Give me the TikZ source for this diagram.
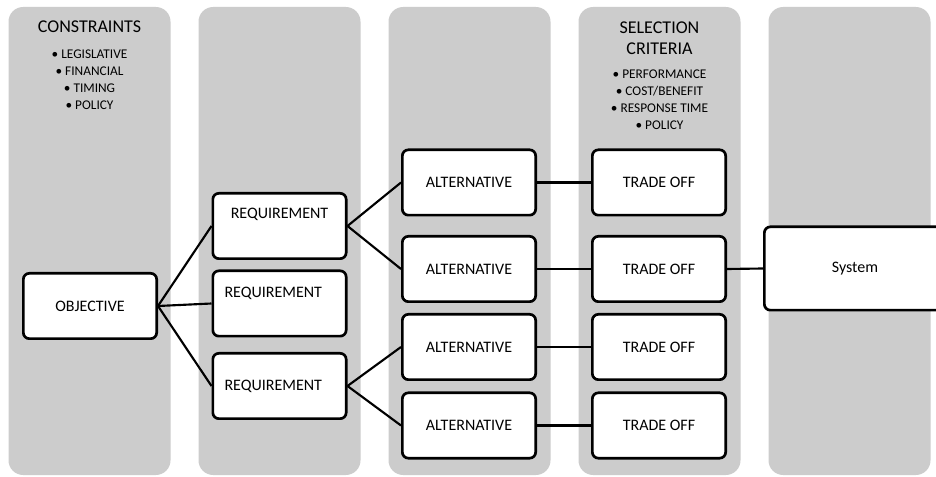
\documentclass[tikz,border=0pt]{standalone}
\usepackage{fontspec}
\setmainfont{Carlito}
\usetikzlibrary{positioning}

\begin{document}
\begin{tikzpicture}[x=0.75pt,y=-0.75pt]
\tikzstyle{lane}=[rectangle, rounded corners=11pt, fill=black!20, minimum width=121.5pt, minimum height=351pt, inner sep=0pt]
\tikzstyle{stage}=[rectangle, rounded corners=4.5pt, draw=black, line width=2pt, fill=white, minimum width=100pt, minimum height=49pt, inner sep=3pt, font=\fontsize{12}{14}\selectfont]
\tikzstyle{offcentre}=[align=left, inner xsep=8.75pt, text width=82.5pt]
\tikzstyle{connect}=[line width=1.6pt]
\tikzstyle{head}=[align=center, font=\fontsize{13.5}{16}\selectfont]
\tikzstyle{items}=[align=center, font=\fontsize{10}{12.75}\selectfont]
  \clip (0,0) rectangle (936,477);
  \fill[white] (0,0) rectangle (936,477);
  % grey lanes
  \node[lane] (lane1) at (89.5,241) {};
  \node[lane] (lane2) at (279.5,241) {};
  \node[lane] (lane3) at (469.5,241) {};
  \node[lane] (lane4) at (659.5,241) {};
  \node[lane] (lane5) at (849.5,241) {};
  % lane headings
  \node[head] (constraints) at (89.5,27) {CONSTRAINTS};
  \node[items] (limits) at (89.5,79.5) {\textbullet\ LEGISLATIVE\\ \textbullet\ FINANCIAL\\ \textbullet\ TIMING\\ \textbullet\ POLICY};
  \node[head] (criteria) at (659.5,38) {SELECTION\\ CRITERIA};
  \node[items] (measures) at (659.5,99.5) {\textbullet\ PERFORMANCE\\ \textbullet\ COST/BENEFIT\\ \textbullet\ RESPONSE TIME\\ \textbullet\ POLICY};
  % boxes
  \node[stage] (objective) at (90,306) {OBJECTIVE};
  \node[stage, text height=8pt, text depth=19.8pt] (req1) at (279.5,226) {REQUIREMENT};
  \node[stage, offcentre, text height=8pt, text depth=17.5pt] (req2) at (279.5,303.5) {REQUIREMENT};
  \node[stage, offcentre] (req3) at (279.5,386) {REQUIREMENT};
  \node[stage] (alt1) at (469,182.5) {ALTERNATIVE};
  \node[stage] (alt2) at (469,269) {ALTERNATIVE};
  \node[stage] (alt3) at (469,347) {ALTERNATIVE};
  \node[stage] (alt4) at (469,425.5) {ALTERNATIVE};
  \node[stage] (trade1) [right=40.5pt of alt1] {TRADE OFF};
  \node[stage] (trade2) [right=40.5pt of alt2] {TRADE OFF};
  \node[stage] (trade3) [right=40.5pt of alt3] {TRADE OFF};
  \node[stage] (trade4) [right=40.5pt of alt4] {TRADE OFF};
  \node[stage, minimum width=136pt, minimum height=62.5pt] (system) at (855,268.5) {System};
  % links
  \path (objective.east) edge [connect] (req1.west)
        (objective.east) edge [connect] (req2.west)
        (objective.east) edge [connect] (req3.west)
        (req1.east) edge [connect] (alt1.west)
        (req1.east) edge [connect] (alt2.west)
        (req3.east) edge [connect] (alt3.west)
        (req3.east) edge [connect] (alt4.west)
        (alt1) edge [connect] (trade1)
        (alt2) edge [connect] (trade2)
        (alt3) edge [connect] (trade3)
        (alt4) edge [connect] (trade4)
        (trade2.east) edge [connect] (system.west);
\end{tikzpicture}
\end{document}
